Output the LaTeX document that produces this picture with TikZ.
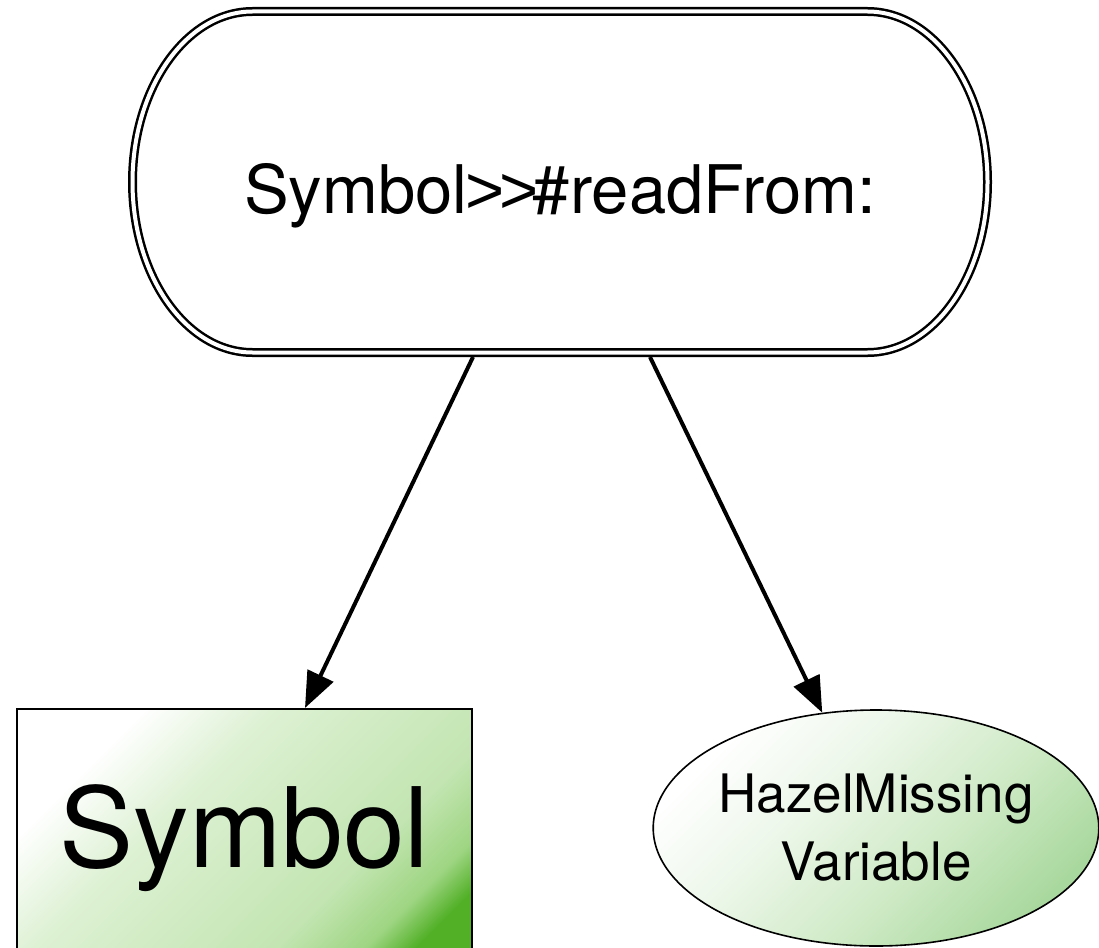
\documentclass[tikz,border=0pt]{standalone}
\usepackage{fontspec}
\setmainfont{TeX Gyre Heros}
\newfontfamily\gtfont{Liberation Sans}
\usetikzlibrary{arrows.meta,shapes.geometric,calc}
\definecolor{bA}{HTML}{DDF1D3}
\definecolor{bB}{HTML}{C3E5B2}
\definecolor{bC}{HTML}{9ED582}
\definecolor{bD}{HTML}{52B027}
\definecolor{eA}{HTML}{EDF7EA}
\definecolor{eB}{HTML}{CFEAC6}
\definecolor{eC}{HTML}{A9D89E}
\pgfdeclarehorizontalshading{boxshade}{100bp}{color(0bp)=(white); color(27bp)=(white); color(40bp)=(bA); color(64bp)=(bB); color(73bp)=(bC); color(78bp)=(bD); color(100bp)=(bD)}
\pgfdeclarehorizontalshading{ellshade}{100bp}{color(0bp)=(white); color(25bp)=(white); color(40bp)=(eA); color(58bp)=(eB); color(75bp)=(eC); color(100bp)=(eC)}
\tikzset{
  conn/.style={line width=4pt,-{Triangle[length=36pt,width=28pt]}},
  dbl/.style={draw=black,line width=2.5pt,double=white,double distance=4pt},
  boxnode/.style={draw=black,line width=2pt,shading=boxshade,shading angle=-45,minimum width=455pt,minimum height=258pt,inner sep=0pt,font=\fontsize{111}{130}\selectfont},
  ellnode/.style={ellipse,draw=black,line width=1.6pt,shading=ellshade,shading angle=-45,minimum width=442pt,minimum height=236pt,inner sep=0pt,align=center,font=\fontsize{53}{68}\selectfont},
  toptext/.style={inner sep=0pt,font=\fontsize{67}{80}\selectfont}
}
\begin{document}
\begin{tikzpicture}[x=1pt,y=-1pt]
\useasboundingbox (0,0) rectangle (1099,947);
% top rounded terminal
\node[minimum width=864pt,minimum height=350pt,inner sep=0pt,outer sep=0pt] (top) at (560,182) {};
\draw[dbl] (252.5,11.5) -- (867.5,11.5)
  arc[start angle=90,end angle=-90,x radius=120pt,y radius=170.5pt]
  -- (252.5,352.5)
  arc[start angle=270,end angle=90,x radius=120pt,y radius=170.5pt] -- cycle;
\node[toptext,anchor=base] (toplabel) at (560,213) {Symbol{\gtfont\kern-2pt>\kern-5pt>\kern-6pt}\#readFrom:};
% children
\node[boxnode] (sym) at (244.5,838) {Symbol};
\node[ellnode] (ell) at (876,828) {HazelMissing\\Variable};
% connectors
\draw[conn] ([xshift=-87pt]top.south) -- ([xshift=60.5pt]sym.north);
\draw[conn] ([xshift=90pt]top.south) -- (ell.115);
\end{tikzpicture}
\end{document}
